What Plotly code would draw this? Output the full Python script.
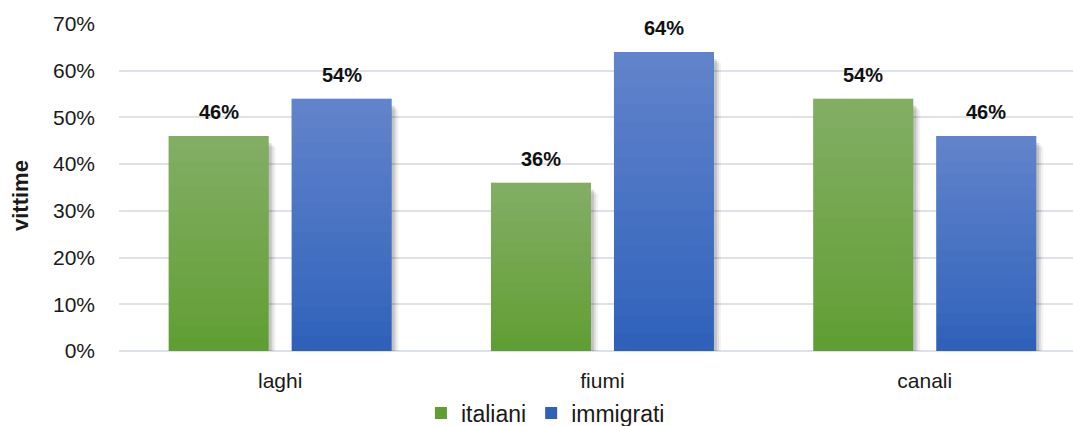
import plotly.graph_objects as go

# Data
categories = ["laghi", "fiumi", "canali"]
italiani = [46, 36, 54]
immigrati = [54, 64, 46]
y_ticks = [0, 10, 20, 30, 40, 50, 60, 70]
y_tick_labels = [f"{t}%" for t in y_ticks]

# Geometry / styling
W, H = 1073, 426
M_L, M_R, M_T, M_B = 119, 0, 24, 75
Y_MAX = 70
X_RANGE = [-0.5, 2.46]
px_x = (W - M_L - M_R) / (X_RANGE[1] - X_RANGE[0])   # pixels per category
px_y = (H - M_T - M_B) / Y_MAX                         # pixels per percent

BAR_W = 100 / px_x
GAP = 23 / px_x
series = [
    dict(name="italiani", values=italiani, color="#5f9e33", offset=-(BAR_W + GAP / 2)),
    dict(name="immigrati", values=immigrati, color="#2f61bb", offset=GAP / 2),
]

# soft drop shadow layers: (dx px, drop from top px, below base px, alpha)
shadow_layers = [(7, 11, 3.5, 0.05), (5, 9, 2.5, 0.08), (3, 7, 1.5, 0.12)]
N_BANDS = 16
BAND_ALPHA = 1 - 0.75 ** (1 / N_BANDS)

font_family = "Liberation Sans, Arial, sans-serif"
text_color = "#1a1a1a"
grid_color = "#dde1e8"

fig = go.Figure()

# shadows
for s in series:
    for dx, dtop, dbot, a in shadow_layers:
        base = [-dbot / px_y] * len(categories)
        tops = [v - dtop / px_y for v in s["values"]]
        fig.add_trace(go.Bar(
            x=categories, y=[t - b for t, b in zip(tops, base)], base=base,
            width=BAR_W, offset=s["offset"] + dx / px_x,
            marker=dict(color=f"rgba(0,0,0,{a})", line=dict(width=0)),
            showlegend=False, hoverinfo="skip",
        ))

# main bars
for s in series:
    fig.add_trace(go.Bar(
        x=categories, y=s["values"], name=s["name"],
        width=BAR_W, offset=s["offset"],
        marker=dict(color=s["color"], line=dict(width=0)),
        hovertemplate="%{x}: %{y}%<extra>" + s["name"] + "</extra>",
    ))

# vertical light-to-dark shading, lighter toward the top of each bar
for s in series:
    for k in range(1, N_BANDS + 1):
        base = [v * k / (N_BANDS + 1) for v in s["values"]]
        fig.add_trace(go.Bar(
            x=categories, y=[v - b for v, b in zip(s["values"], base)], base=base,
            width=BAR_W, offset=s["offset"],
            marker=dict(color=f"rgba(255,255,255,{BAND_ALPHA:.4f})", line=dict(width=0)),
            showlegend=False, hoverinfo="skip",
        ))

# value labels
for s in series:
    for i, v in enumerate(s["values"]):
        fig.add_annotation(
            x=i + s["offset"] + BAR_W / 2, y=v, xref="x", yref="y",
            text=f"<b>{v}%</b>", showarrow=False, yanchor="middle", yshift=24,
            font=dict(family=font_family, size=20, color="#111111"),
        )

# y-axis title
fig.add_annotation(
    x=-(M_L - 20) / (W - M_L - M_R), y=(351 - 196) / (H - M_T - M_B),
    xref="paper", yref="paper", text="<b>vittime</b>", textangle=-90,
    showarrow=False, xanchor="center", yanchor="middle",
    font=dict(family=font_family, size=22, color=text_color),
)

fig.update_layout(
    width=W, height=H,
    margin=dict(l=M_L, r=M_R, t=M_T, b=M_B, pad=0, autoexpand=False),
    barmode="overlay",
    paper_bgcolor="white", plot_bgcolor="white",
    font=dict(family=font_family, size=21, color=text_color),
    legend=dict(
        orientation="h", x=0.447, xanchor="center", y=-0.19, yanchor="middle",
        font=dict(size=23, color=text_color), itemwidth=30, traceorder="normal",
        bgcolor="rgba(0,0,0,0)",
    ),
    xaxis=dict(
        type="category", range=X_RANGE, showgrid=False, zeroline=False,
        showline=False, ticks="", ticklabelstandoff=15,
        tickfont=dict(size=21, color=text_color),
    ),
    yaxis=dict(
        range=[0, Y_MAX], tickvals=y_ticks, ticktext=y_tick_labels,
        showgrid=True, gridcolor=grid_color, gridwidth=2,
        zeroline=True, zerolinecolor=grid_color, zerolinewidth=2,
        ticks="", ticklabelstandoff=23, tickfont=dict(size=21, color=text_color),
    ),
)

fig.write_html("out.html")
